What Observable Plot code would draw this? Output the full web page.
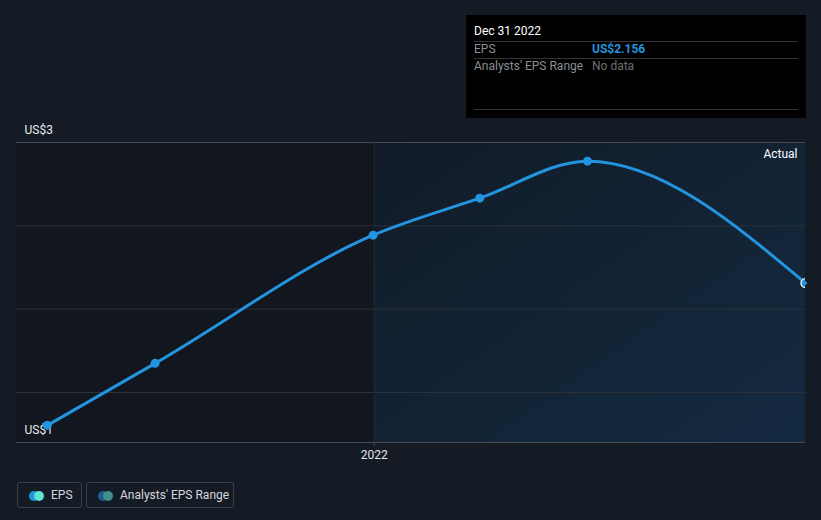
<!DOCTYPE html>
<html>
<head>
<meta charset="utf-8">
<script src="https://cdn.jsdelivr.net/npm/d3@7"></script>
<script src="https://cdn.jsdelivr.net/npm/@observablehq/plot@0.6"></script>
<style>
  html, body { margin: 0; padding: 0; background: #151b25; }
  body { width: 821px; height: 520px; position: relative; overflow: hidden; font-family: Roboto, "Open Sans", sans-serif; }
  #chart { position: absolute; left: 0; top: 0; }
  .tip { position: absolute; left: 466px; top: 15px; width: 340px; height: 103px; background: #000; color: #fff; font-size: 12px; }
  .tip .ln { position: absolute; left: 8px; right: 8px; height: 0; border-top: 1px solid #333; }
  .tip .lab { position: absolute; left: 8px; color: #8a8e94; line-height: 14px; }
  .tip .val { position: absolute; left: 126px; line-height: 14px; }
  .legend { position: absolute; top: 482px; height: 26px; border: 1px solid #3b404a; border-radius: 3px; box-sizing: border-box; color: #d6d8dc; font-size: 12px; }
  .legend .d { position: absolute; top: 8px; width: 10px; height: 10px; border-radius: 50%; }
  .legend .t { position: absolute; top: 5px; }
</style>
</head>
<body>
<div id="chart"></div>
<div class="tip">
  <span class="lab" style="color:#fff;top:9px;">Dec 31 2022</span>
  <div class="ln" style="top:26px;"></div>
  <span class="lab" style="top:27px;">EPS</span><span class="val" style="top:27px;color:#2394df;font-weight:bold;">US$2.156</span>
  <div class="ln" style="top:43px;"></div>
  <span class="lab" style="top:44px;">Analysts' EPS Range</span><span class="val" style="top:44px;color:#6b6f75;">No data</span>
  <div class="ln" style="top:94px;"></div>
</div>
<div class="legend" style="left:17px;width:65px;">
  <span class="d" style="left:11px;background:#2394df;"></span>
  <span class="d" style="left:16px;background:#5fe3d2;"></span>
  <span class="t" style="left:33px;">EPS</span>
</div>
<div class="legend" style="left:86px;width:148px;">
  <span class="d" style="left:11px;background:#1f5f8f;"></span>
  <span class="d" style="left:16px;background:#3f8f8b;"></span>
  <span class="t" style="left:33px;">Analysts' EPS Range</span>
</div>
<script>
// ---- data ----
const dates = ["2021-03-31", "2021-06-30", "2021-12-31", "2022-03-31", "2022-06-30", "2022-12-31"];
const eps = [1.303, 1.675, 2.444, 2.666, 2.888, 2.156];
const xDomain = ["2021-03-05", "2022-12-31"];
const yDomain = [1.2, 3];
const gridValues = [2.5, 2, 1.5];
const edgeValues = [3, 1.2];
const yTickLabels = ["US$3", "US$1"];
const xTicks = ["2022-01-01"];
const xTickLabels = ["2022"];
const actualStart = "2022-01-01";
const actualLabel = "Actual";

const parse = d3.utcParse("%Y-%m-%d");
const data = dates.map((d, i) => ({date: parse(d), eps: eps[i]}));
const last = data[data.length - 1];
const xd = xDomain.map(parse);
const xt = xTicks.map((d, i) => ({date: parse(d), label: xTickLabels[i]}));

const plot = Plot.plot({
  width: 821,
  height: 470,
  marginLeft: 16,
  marginRight: 16,
  marginTop: 142,
  marginBottom: 28,
  style: {background: "transparent", color: "#d6d8dc", fontFamily: "Roboto, sans-serif", fontSize: "12px"},
  x: {type: "utc", domain: xd, axis: null},
  y: {type: "linear", domain: yDomain, axis: null},
  marks: [
    Plot.rect([{x1: xd[0], x2: parse(actualStart)}], {x1: "x1", x2: "x2", y1: () => yDomain[0], y2: () => yDomain[1], fill: "#12161e"}),
    Plot.rect([{x1: parse(actualStart), x2: xd[1]}], {x1: "x1", x2: "x2", y1: () => yDomain[0], y2: () => yDomain[1], fill: "#12202f", className: "actual-bg"}),
    Plot.ruleY(gridValues, {stroke: "#2a313b", strokeWidth: 1}),
    Plot.ruleY(edgeValues, {stroke: "#474c55", strokeWidth: 1}),
    Plot.ruleX([parse(actualStart)], {stroke: "#1d2b36", strokeWidth: 1}),
    Plot.ruleX(xt, {x: "date", y1: () => yDomain[0], y2: () => yDomain[0], insetBottom: -4, stroke: "#474c55"}),
    Plot.text(xt, {x: "date", y: () => yDomain[0], text: "label", dy: 13, fill: "#e4e6e9", fontSize: 12}),
    Plot.text(edgeValues, {x: () => xd[0], y: d => d, text: (d, i) => yTickLabels[i], textAnchor: "start", dx: 8, dy: -12, fill: "#e8eaed", fontSize: 12}),
    Plot.text([actualLabel], {frameAnchor: "top-right", dx: -8, dy: 7, fill: "#ffffff", fontSize: 12}),
    Plot.line(data, {x: "date", y: "eps", curve: "monotone-x", stroke: "#2394df", strokeWidth: 3}),
    Plot.dot(data.slice(0, -1), {x: "date", y: "eps", r: 4.5, fill: "#2394df"}),
    Plot.dot([last], {x: "date", y: "eps", r: 4.5, fill: "#2394df", stroke: "#ffffff", strokeWidth: 1.3, clip: true})
  ]
});
document.getElementById("chart").appendChild(plot);

// gradient for actual region
const svg = d3.select(plot);
const defs = svg.insert("defs", ":first-child");
const g = defs.append("linearGradient").attr("id", "actualGrad").attr("x1", "0").attr("y1", "0").attr("x2", "1").attr("y2", "1");
g.append("stop").attr("offset", "0").attr("stop-color", "#111b27");
g.append("stop").attr("offset", "1").attr("stop-color", "#142a41");
svg.selectAll(".actual-bg rect").attr("fill", "url(#actualGrad)");
</script>
</body>
</html>
